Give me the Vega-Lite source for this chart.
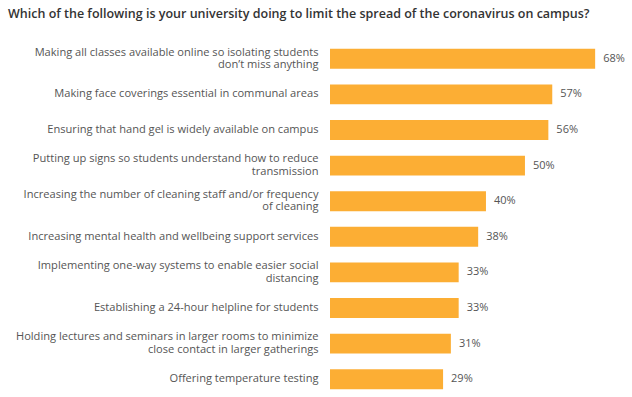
{
  "$schema": "https://vega.github.io/schema/vega-lite/v6.json",
  "autosize": "none",
  "width": 294,
  "height": 356,
  "padding": {"left": 330, "top": 41, "right": 8, "bottom": 0},
  "background": "white",
  "title": {
    "text": "Which of the following is your university doing to limit the spread of the coronavirus on campus?",
    "anchor": "start",
    "frame": "group",
    "dx": -322,
    "offset": 21,
    "font": "Open Sans",
    "fontSize": 12.5,
    "fontWeight": 600,
    "color": "#333333"
  },
  "data": {
    "values": [
      {"label": "Making all classes available online so isolating students\ndon’t miss anything", "value": 0.68},
      {"label": "Making face coverings essential in communal areas", "value": 0.57},
      {"label": "Ensuring that hand gel is widely available on campus", "value": 0.56},
      {"label": "Putting up signs so students understand how to reduce\ntransmission", "value": 0.50},
      {"label": "Increasing the number of cleaning staff and/or frequency\nof cleaning", "value": 0.40},
      {"label": "Increasing mental health and wellbeing support services", "value": 0.38},
      {"label": "Implementing one-way systems to enable easier social\ndistancing", "value": 0.33},
      {"label": "Establishing a 24-hour helpline for students", "value": 0.33},
      {"label": "Holding lectures and seminars in larger rooms to minimize\nclose contact in larger gatherings", "value": 0.31},
      {"label": "Offering temperature testing", "value": 0.29}
    ]
  },
  "encoding": {
    "y": {
      "field": "label",
      "type": "nominal",
      "sort": null,
      "scale": {"paddingInner": 0.44, "paddingOuter": 0.22},
      "axis": {
        "title": null,
        "domain": false,
        "ticks": false,
        "labelExpr": "split(datum.label, '\\n')",
        "labelFont": "Open Sans",
        "labelFontSize": 11.1,
        "labelColor": "#555555",
        "labelPadding": 12,
        "labelLineHeight": 12.5,
        "labelOffset": {"condition": {"test": "indexof(datum.label, '\\n') >= 0", "value": -6.25}, "value": 0},
        "labelLimit": 400
      }
    },
    "x": {
      "field": "value",
      "type": "quantitative",
      "scale": {"domain": [0, 0.754]},
      "axis": null
    }
  },
  "layer": [
    {"mark": {"type": "bar", "color": "#FCAE34"}},
    {
      "mark": {"type": "text", "align": "left", "baseline": "middle", "dx": 8, "font": "Open Sans", "fontSize": 11, "color": "#555555"},
      "encoding": {"text": {"field": "value", "format": ".0%"}}
    }
  ],
  "config": {"view": {"stroke": null}}
}
